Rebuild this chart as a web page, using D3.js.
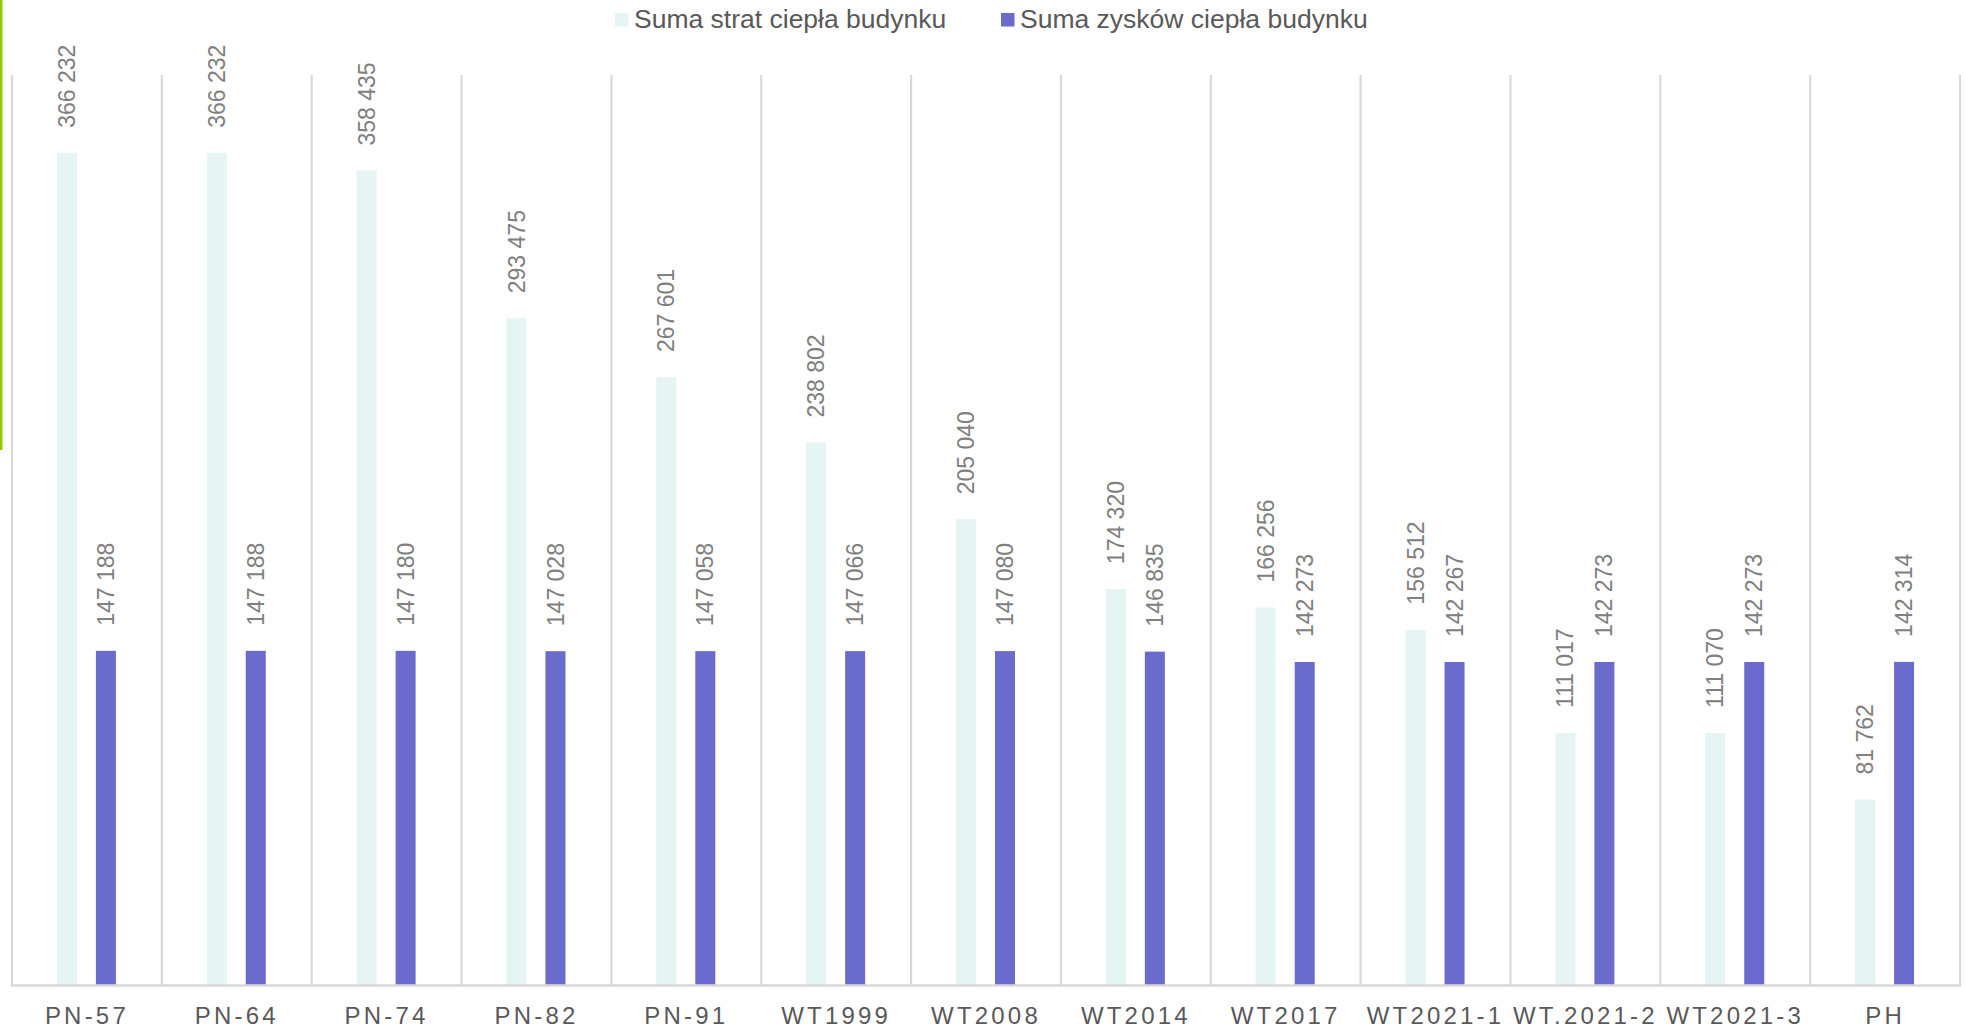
<!DOCTYPE html>
<html>
<head>
<meta charset="utf-8">
<script src="https://cdn.jsdelivr.net/npm/d3@7"></script>
<style>
  html, body { margin: 0; padding: 0; background: #ffffff; }
  svg { display: block; font-family: "Liberation Sans", Arial, sans-serif; }
</style>
</head>
<body>
<svg id="chart" width="1966" height="1028"></svg>
<script>
// Building standards compared: total heat losses vs. total heat gains
const categories = ["PN-57", "PN-64", "PN-74", "PN-82", "PN-91", "WT1999", "WT2008",
                    "WT2014", "WT2017", "WT2021-1", "WT.2021-2", "WT2021-3", "PH"];
const heatLosses = [366232, 366232, 358435, 293475, 267601, 238802, 205040,
                    174320, 166256, 156512, 111017, 111070, 81762];
const heatGains  = [147188, 147188, 147180, 147028, 147058, 147066, 147080,
                    146835, 142273, 142267, 142273, 142273, 142314];
const seriesNames = ["Suma strat ciepła budynku", "Suma zysków ciepła budynku"];
const seriesColors = ["#E6F4F3", "#6B6BCD"];
const yDomainMax = 400000;

const svg = d3.select("#chart");
const fmt = d3.formatLocale({ decimal: ",", thousands: " ", grouping: [3], currency: ["", " zł"] }).format(",d");

const plotLeft = 12, plotRight = 1960, plotTop = 76, plotBottom = 985.5;

const x = d3.scaleBand().domain(categories).range([plotLeft, plotRight]).padding(0);
const xSub = d3.scaleBand().domain([0, 1]).range([-30, 29]).paddingInner(19 / 39);
const y = d3.scaleLinear().domain([0, yDomainMax]).range([plotBottom, plotTop]);

// accent stripe on the left edge
svg.append("rect").attr("x", 0).attr("y", 0).attr("width", 2.5).attr("height", 450)
  .attr("fill", "#8FCB00");

// vertical category separators
const bounds = categories.map(c => x(c)).concat([plotRight]);
svg.append("g").selectAll("line").data(bounds).join("line")
  .attr("x1", d => d).attr("x2", d => d)
  .attr("y1", 75).attr("y2", plotBottom)
  .attr("stroke", "#D9D9D9").attr("stroke-width", 2.2);

// bars
const rows = categories.map((c, i) => ({ cat: c, vals: [heatLosses[i], heatGains[i]] }));
const groups = svg.append("g").selectAll("g").data(rows).join("g")
  .attr("transform", d => `translate(${x(d.cat) + x.bandwidth() / 2},0)`);

groups.selectAll("rect").data(d => d.vals.map((v, s) => ({ v, s }))).join("rect")
  .attr("x", d => xSub(d.s))
  .attr("width", xSub.bandwidth())
  .attr("y", d => y(d.v))
  .attr("height", d => y(0) - y(d.v))
  .attr("fill", d => seriesColors[d.s]);

// value labels, rotated above each bar
groups.selectAll("text").data(d => d.vals.map((v, s) => ({ v, s }))).join("text")
  .attr("transform", d => `translate(${xSub(d.s) + xSub.bandwidth() / 2},${y(d.v) - 25}) rotate(-90)`)
  .attr("dy", "0.35em")
  .attr("text-anchor", "start")
  .attr("font-size", 23)
  .attr("fill", "#808080")
  .text(d => fmt(d.v));

// baseline
svg.append("line").attr("x1", plotLeft - 1).attr("x2", plotRight + 1)
  .attr("y1", plotBottom).attr("y2", plotBottom)
  .attr("stroke", "#D9D9D9").attr("stroke-width", 2.6);

// category axis labels
const xAxis = d3.axisBottom(x).tickSize(0).tickPadding(0);
const axisG = svg.append("g").attr("transform", `translate(0,${plotBottom})`).call(xAxis);
axisG.select(".domain").remove();
axisG.selectAll("text")
  .attr("y", 0).attr("dy", 38)
  .attr("font-size", 24)
  .attr("font-family", "'Liberation Sans', Arial, sans-serif")
  .attr("letter-spacing", "3.2px")
  .attr("fill", "#595959");

// legend
const legendItems = [{ x: 615, name: seriesNames[0], color: seriesColors[0] },
                     { x: 1001, name: seriesNames[1], color: seriesColors[1] }];
const lg = svg.append("g").selectAll("g").data(legendItems).join("g")
  .attr("transform", d => `translate(${d.x},0)`);
lg.append("rect").attr("x", 0).attr("y", 13).attr("width", 13.5).attr("height", 13.5)
  .attr("fill", d => d.color);
lg.append("text").attr("x", 19).attr("y", 27.5)
  .attr("font-size", 26.5).attr("fill", "#595959")
  .text(d => d.name);
</script>
</body>
</html>
